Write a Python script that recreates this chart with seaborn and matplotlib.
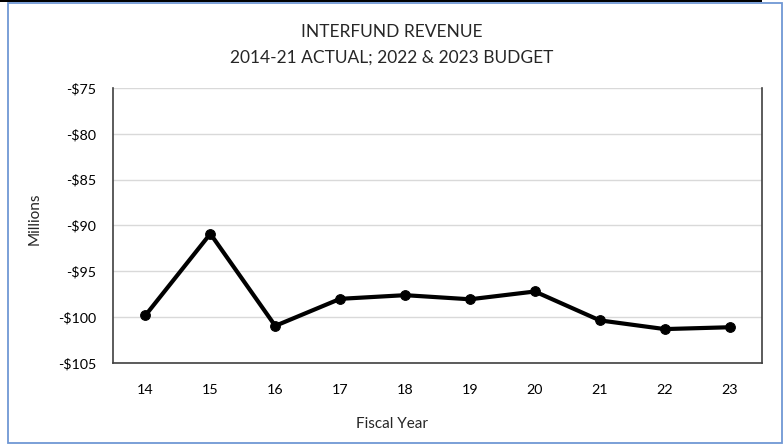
import matplotlib
matplotlib.use("Agg")
import matplotlib.pyplot as plt
import matplotlib.patches as mpatches
from matplotlib.ticker import FuncFormatter, MultipleLocator
import seaborn as sns
import pandas as pd

# Interfund revenue by fiscal year, in millions of dollars
fiscal_years = ["14", "15", "16", "17", "18", "19", "20", "21", "22", "23"]
revenue_millions = [-99.8, -90.9, -100.95, -98.0, -97.6, -98.05, -97.2, -100.35, -101.3, -101.1]

title_lines = ["INTERFUND REVENUE", "2014-21 ACTUAL; 2022 & 2023 BUDGET"]
x_title = "Fiscal Year"
y_title = "Millions"

sns.set_theme(style="white")
plt.rcParams["font.family"] = ["Lato", "DejaVu Sans"]

df = pd.DataFrame({"year": fiscal_years, "revenue": revenue_millions})

fig = plt.figure(figsize=(7.84, 4.44), dpi=100)
ax = fig.add_axes([113 / 784, 1 - 363 / 444, (762 - 113) / 784, (363 - 88) / 444])

sns.lineplot(data=df, x="year", y="revenue", ax=ax, sort=False,
             color="black", linewidth=3, marker="o", markersize=7,
             markeredgecolor="black", markerfacecolor="black")

ax.set_xlim(-0.5, len(fiscal_years) - 0.5)
ax.set_ylim(-105, -75)
ax.yaxis.set_major_locator(MultipleLocator(5))
ax.yaxis.set_major_formatter(FuncFormatter(lambda v, _: f"-${abs(v):.0f}" if v < 0 else f"${v:.0f}"))
ax.grid(axis="y", color="#d9d9d9", linewidth=1)
ax.set_axisbelow(True)

for side in ["left", "bottom", "right"]:
    ax.spines[side].set_visible(True)
    ax.spines[side].set_color("#404040")
    ax.spines[side].set_linewidth(1.2)
ax.spines["top"].set_visible(False)

ax.tick_params(axis="both", length=0, labelsize=10.3, colors="black")
ax.tick_params(axis="y", pad=12)
ax.tick_params(axis="x", pad=15)
ax.set_xlabel("")
ax.set_ylabel("")

fig.text(0.5, 1 - 32 / 444, title_lines[0], ha="center", va="center", fontsize=12.5)
fig.text(0.5, 1 - 58 / 444, title_lines[1], ha="center", va="center", fontsize=12.5)
fig.text(0.5, 1 - 424 / 444, x_title, ha="center", va="center", fontsize=11)
fig.text(35 / 784, 1 - 219 / 444, y_title, ha="center", va="center", rotation=90, fontsize=11)

# chart frame and the dark strip along the top edge
fig.patches.append(mpatches.Rectangle((8 / 784, 1 - 443 / 444), (782 - 8) / 784, (443 - 3) / 444,
                                      transform=fig.transFigure, fill=False,
                                      edgecolor="#6f97d4", linewidth=1.3))
fig.patches.append(mpatches.Rectangle((0, 1 - 2.5 / 444), 762 / 784, 2.5 / 444,
                                      transform=fig.transFigure, facecolor="black",
                                      edgecolor="none"))

fig.savefig("out.png", dpi=100)
